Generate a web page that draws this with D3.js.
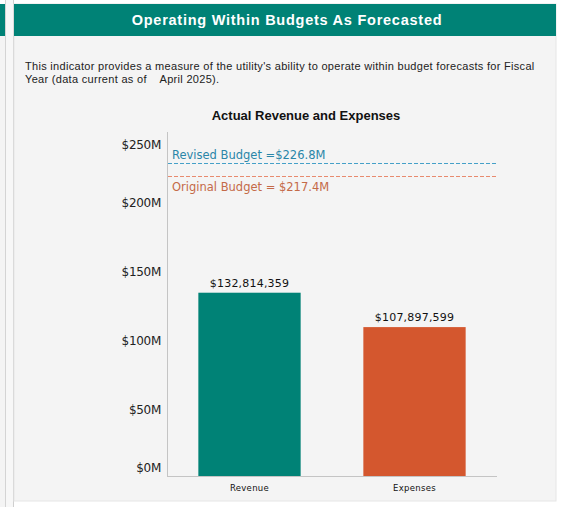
<!DOCTYPE html>
<html>
<head>
<meta charset="utf-8">
<script src="https://cdn.jsdelivr.net/npm/d3@7"></script>
<style>
  html, body { margin: 0; padding: 0; background: #ffffff; }
  svg { display: block; }
  .pre { white-space: pre; }
</style>
</head>
<body>
<script>
// Actual revenue / expenses for the fiscal year and the two budget lines.
const categories = ["Revenue", "Expenses"];
const actuals = [132814359, 107897599];
const actualLabels = ["$132,814,359", "$107,897,599"];
const budgetValues = [226.8e6, 217.4e6];
const budgetLabels = ["Revised Budget =$226.8M", "Original Budget = $217.4M"];
const yTickValues = [0, 50e6, 100e6, 150e6, 200e6, 250e6];
const yTickLabels = ["$0M", "$50M", "$100M", "$150M", "$200M", "$250M"];

const W = 561, H = 507;
const teal = "#008276", orange = "#d4572e";
const budgetLineColors = ["#45a0c8", "#e88a6e"];
const budgetTextColors = ["#2a86a8", "#c46a48"];

const svg = d3.select("body").append("svg").attr("width", W).attr("height", H);

// Page frame: cut-off neighbouring tile on the left, then the panel.
svg.append("rect").attr("x", 0).attr("y", 4).attr("width", 5).attr("height", 32).attr("fill", teal);
svg.append("rect").attr("x", 0).attr("y", 36).attr("width", 5).attr("height", H - 36).attr("fill", "#f4f4f4");
svg.append("line").attr("x1", 5.5).attr("x2", 5.5).attr("y1", 0).attr("y2", H).attr("stroke", "#d4d4d4");
svg.append("line").attr("x1", 13.5).attr("x2", 13.5).attr("y1", 0).attr("y2", H).attr("stroke", "#cfcfcf");
svg.append("rect").attr("x", 6).attr("y", 0).attr("width", 7).attr("height", H).attr("fill", "#f7f7f7");

// Panel body and header
svg.append("rect").attr("x", 14).attr("y", 4).attr("width", 542).attr("height", 497)
  .attr("fill", "#f4f4f4").attr("stroke", "#e6e6e6");
svg.append("rect").attr("x", 14).attr("y", 4).attr("width", 542).attr("height", 32).attr("fill", teal);
svg.append("text").attr("x", 287).attr("y", 25).attr("text-anchor", "middle")
  .attr("fill", "#ffffff").attr("font-family", "Liberation Sans, Arial, sans-serif")
  .attr("font-weight", "bold").attr("font-size", 14.5).attr("letter-spacing", 0.75)
  .text("Operating Within Budgets As Forecasted");

const desc = svg.append("text").attr("class", "pre")
  .attr("font-family", "Liberation Sans, Arial, sans-serif")
  .attr("font-size", 11).attr("letter-spacing", 0.3).attr("fill", "#222");
desc.append("tspan").attr("x", 25).attr("y", 70)
  .text("This indicator provides a measure of the utility's ability to operate within budget forecasts for Fiscal");
desc.append("tspan").attr("x", 25).attr("y", 83).text("Year (data current as of    April 2025).");

// Chart title
svg.append("text").attr("x", 306).attr("y", 120).attr("text-anchor", "middle")
  .attr("font-family", "Liberation Sans, Arial, sans-serif").attr("font-weight", "bold")
  .attr("font-size", 13).attr("fill", "#111")
  .text("Actual Revenue and Expenses");

// Plot area
const plot = { left: 167, right: 497, top: 132, bottom: 476 };
const y = d3.scaleLinear().domain([0, 250e6]).range([plot.bottom, 131]);
const x = d3.scaleBand().domain(categories).range([plot.left, plot.right])
  .paddingInner(0.38).paddingOuter(0.19);

// Axis lines
svg.append("line").attr("x1", plot.left + 0.5).attr("x2", plot.left + 0.5)
  .attr("y1", plot.top).attr("y2", plot.bottom).attr("stroke", "#c4c4c4");
svg.append("line").attr("x1", plot.left).attr("x2", plot.right)
  .attr("y1", plot.bottom + 0.5).attr("y2", plot.bottom + 0.5).attr("stroke", "#c4c4c4");

// Y tick labels (kept inside the axis span at both ends)
svg.append("g").selectAll("text").data(yTickValues).join("text")
  .attr("x", 161).attr("text-anchor", "end")
  .attr("y", d => Math.max(plot.top + 17, Math.min(plot.bottom - 4, y(d) + 7)))
  .attr("font-family", "DejaVu Sans, sans-serif").attr("font-size", 12).attr("fill", "#222")
  .attr("letter-spacing", -0.3)
  .text((d, i) => yTickLabels[i]);

// Bars
const barColors = [teal, orange];
svg.append("g").selectAll("rect").data(actuals).join("rect")
  .attr("x", (d, i) => x(categories[i]))
  .attr("width", x.bandwidth())
  .attr("y", d => y(d))
  .attr("height", d => plot.bottom - y(d))
  .attr("fill", (d, i) => barColors[i]);

// Value labels
svg.append("g").selectAll("text").data(actuals).join("text")
  .attr("x", (d, i) => x(categories[i]) + x.bandwidth() / 2)
  .attr("y", d => y(d) - 6)
  .attr("text-anchor", "middle")
  .attr("font-family", "DejaVu Sans, sans-serif").attr("font-size", 11).attr("fill", "#111")
  .attr("letter-spacing", 0.2)
  .text((d, i) => actualLabels[i]);

// Category labels
svg.append("g").selectAll("text").data(categories).join("text")
  .attr("x", d => x(d) + x.bandwidth() / 2)
  .attr("y", 491)
  .attr("text-anchor", "middle")
  .attr("font-family", "DejaVu Sans, sans-serif").attr("font-size", 8.5).attr("fill", "#111")
  .attr("letter-spacing", 0.3)
  .text(d => d);

// Budget reference lines
svg.append("g").selectAll("line").data(budgetValues).join("line")
  .attr("x1", plot.left + 1).attr("x2", plot.right)
  .attr("y1", d => Math.round(y(d)) + 0.5).attr("y2", d => Math.round(y(d)) + 0.5)
  .attr("stroke", (d, i) => budgetLineColors[i])
  .attr("stroke-width", 1.2)
  .attr("stroke-dasharray", "4,2");

svg.append("g").selectAll("text").data(budgetValues).join("text")
  .attr("x", 172)
  .attr("y", (d, i) => i === 0 ? y(d) - 4 : y(d) + 15)
  .attr("font-family", "DejaVu Sans, sans-serif").attr("font-size", 11.5)
  .attr("fill", (d, i) => budgetTextColors[i])
  .text((d, i) => budgetLabels[i]);
</script>
</body>
</html>
